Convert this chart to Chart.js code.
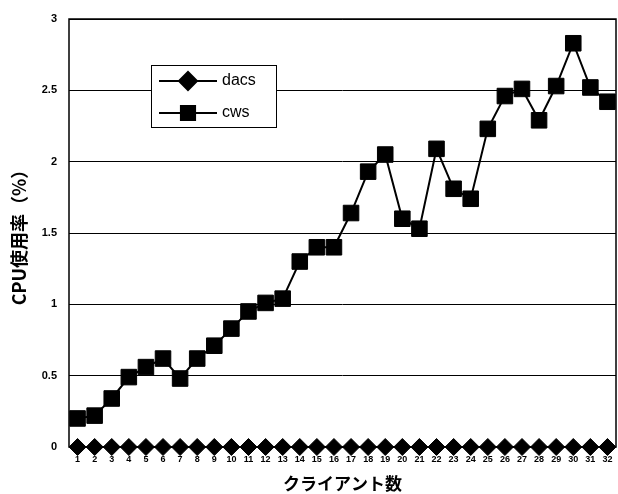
<!DOCTYPE html>
<html>
<head>
<meta charset="utf-8">
<script src="https://cdn.jsdelivr.net/npm/chart.js@4/dist/chart.umd.min.js"></script>
<style>
  html, body { margin: 0; padding: 0; background: #fff; }
  #wrap { width: 618px; height: 494px; }
</style>
</head>
<body>
<div id="wrap"><canvas id="cpuChart" width="618" height="494"></canvas></div>
<script>
// クライアント数 1..32
const clients = ["1","2","3","4","5","6","7","8","9","10","11","12","13","14","15","16",
  "17","18","19","20","21","22","23","24","25","26","27","28","29","30","31","32"];

const dacsValues = [0,0,0,0,0,0,0,0,0,0,0,0,0,0,0,0,
  0,0,0,0,0,0,0,0,0,0,0,0,0,0,0,0];

const cwsValues = [0.2,0.22,0.34,0.49,0.56,0.62,0.48,0.62,0.71,0.83,0.95,1.01,1.04,1.3,1.4,1.4,
  1.64,1.93,2.05,1.6,1.53,2.09,1.81,1.74,2.23,2.46,2.51,2.29,2.53,2.83,2.52,2.42];

const yTicks = [0, 0.5, 1, 1.5, 2, 2.5, 3];

// 枠線と凡例（チャート内の左上）
const framePlugin = {
  id: "frame",
  afterDatasetsDraw(chart) {
    const { ctx, chartArea: a } = chart;
    ctx.save();
    ctx.strokeStyle = "#000";
    ctx.lineWidth = 1.5;
    ctx.strokeRect(a.left, a.top, a.right - a.left, a.bottom - a.top);

    // legend box
    const bx = 151, by = 65, bw = 125, bh = 62;
    ctx.fillStyle = "#fff";
    ctx.fillRect(bx, by, bw, bh);
    ctx.lineWidth = 1;
    ctx.strokeRect(bx + 0.5, by + 0.5, bw, bh);
    chart.data.datasets.forEach((ds, i) => {
      const y = by + 16 + i * 32;
      ctx.strokeStyle = "#000";
      ctx.lineWidth = 2;
      ctx.beginPath();
      ctx.moveTo(bx + 8, y);
      ctx.lineTo(bx + 66, y);
      ctx.stroke();
      ctx.fillStyle = "#000";
      Chart.helpers.drawPoint(ctx, {
        pointStyle: ds.pointStyle,
        radius: ds.pointStyle === "rect" ? 10 : 9,
        rotation: 0,
        borderWidth: 1
      }, bx + 37, y);
      ctx.fillStyle = "#000";
      ctx.font = "16px 'Liberation Sans', Arial, sans-serif";
      ctx.textBaseline = "middle";
      ctx.textAlign = "left";
      ctx.fillText(ds.label, bx + 71, y);
    });
    ctx.restore();
  }
};

const ctx = document.getElementById("cpuChart").getContext("2d");
const cpuChart = new Chart(ctx, {
  type: "line",
  data: {
    labels: clients,
    datasets: [
      {
        label: "dacs",
        data: dacsValues,
        borderColor: "#000",
        backgroundColor: "#000",
        borderWidth: 2,
        pointStyle: "rectRot",
        pointRadius: 8.5,
        pointBorderWidth: 1,
        clip: false
      },
      {
        label: "cws",
        data: cwsValues,
        borderColor: "#000",
        backgroundColor: "#000",
        borderWidth: 2,
        pointStyle: "rect",
        pointRadius: 11,
        pointBorderWidth: 1,
        clip: false
      }
    ]
  },
  options: {
    responsive: false,
    animation: false,
    layout: { autoPadding: false, padding: { top: 19, right: 2, left: 0, bottom: 0 } },
    plugins: {
      legend: { display: false },
      tooltip: { enabled: false }
    },
    scales: {
      x: {
        offset: true,
        grid: { display: false, drawTicks: false },
        border: { display: false },
        ticks: {
          color: "#000",
          font: { size: 9, weight: "bold", family: "'Liberation Sans Narrow', 'Liberation Sans', sans-serif" },
          padding: 7,
          maxRotation: 0,
          autoSkip: false
        },
        title: {
          display: true,
          text: "クライアント数",
          color: "#000",
          font: { size: 17, weight: "bold", family: "'Noto Sans CJK JP', sans-serif" },
          padding: { top: 3, bottom: 0 }
        },
        afterFit(s) {
          s.height = 47;
          s.paddingLeft = 0;
          s.paddingRight = 0;
        }
      },
      y: {
        min: 0,
        max: 3,
        afterBuildTicks(s) { s.ticks = yTicks.map(v => ({ value: v })); },
        grid: { color: "#000", lineWidth: 1, drawTicks: false },
        border: { display: false },
        ticks: {
          color: "#000",
          font: { size: 11, weight: "bold", family: "'Liberation Sans', Arial, sans-serif" },
          padding: 12,
          callback: v => String(v)
        },
        title: {
          display: true,
          text: "CPU使用率（%）",
          color: "#000",
          font: { size: 18, weight: "bold", family: "'Noto Sans CJK JP', sans-serif" },
          padding: { top: 8, bottom: 4 }
        },
        afterFit(s) { s.width = 69; }
      }
    }
  },
  plugins: [framePlugin]
});
</script>
</body>
</html>
